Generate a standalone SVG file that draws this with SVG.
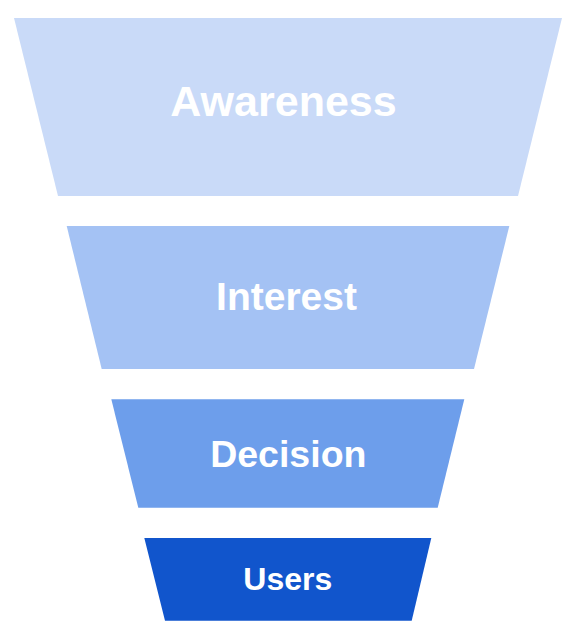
<svg xmlns="http://www.w3.org/2000/svg" width="576" height="636" viewBox="0 0 576 636">
<style>
text{font-family:"Liberation Sans",Arial,sans-serif;font-weight:bold;fill:#ffffff;text-anchor:middle}
</style>
<rect width="576" height="636" fill="#ffffff"/>
<g id="awareness">
<polygon points="14,18 562,18 518,196 58,196" fill="#C9DAF8"/>
<text x="283.5" y="116" font-size="43">Awareness</text>
</g>
<g id="interest">
<polygon points="66.7,226 509.3,226 474,369 101.7,369" fill="#A4C2F4"/>
<text x="286.5" y="310" font-size="39">Interest</text>
</g>
<g id="decision">
<polygon points="111.3,399.3 464.3,399.3 437.7,507.7 138.3,507.7" fill="#6D9EEB"/>
<text x="288.3" y="467" font-size="37.5">Decision</text>
</g>
<g id="users">
<polygon points="144.3,538 431.3,538 411.7,620.7 165,620.7" fill="#1155CC"/>
<text x="287.8" y="589.5" font-size="32">Users</text>
</g>
<g id="connectors"></g>
</svg>
